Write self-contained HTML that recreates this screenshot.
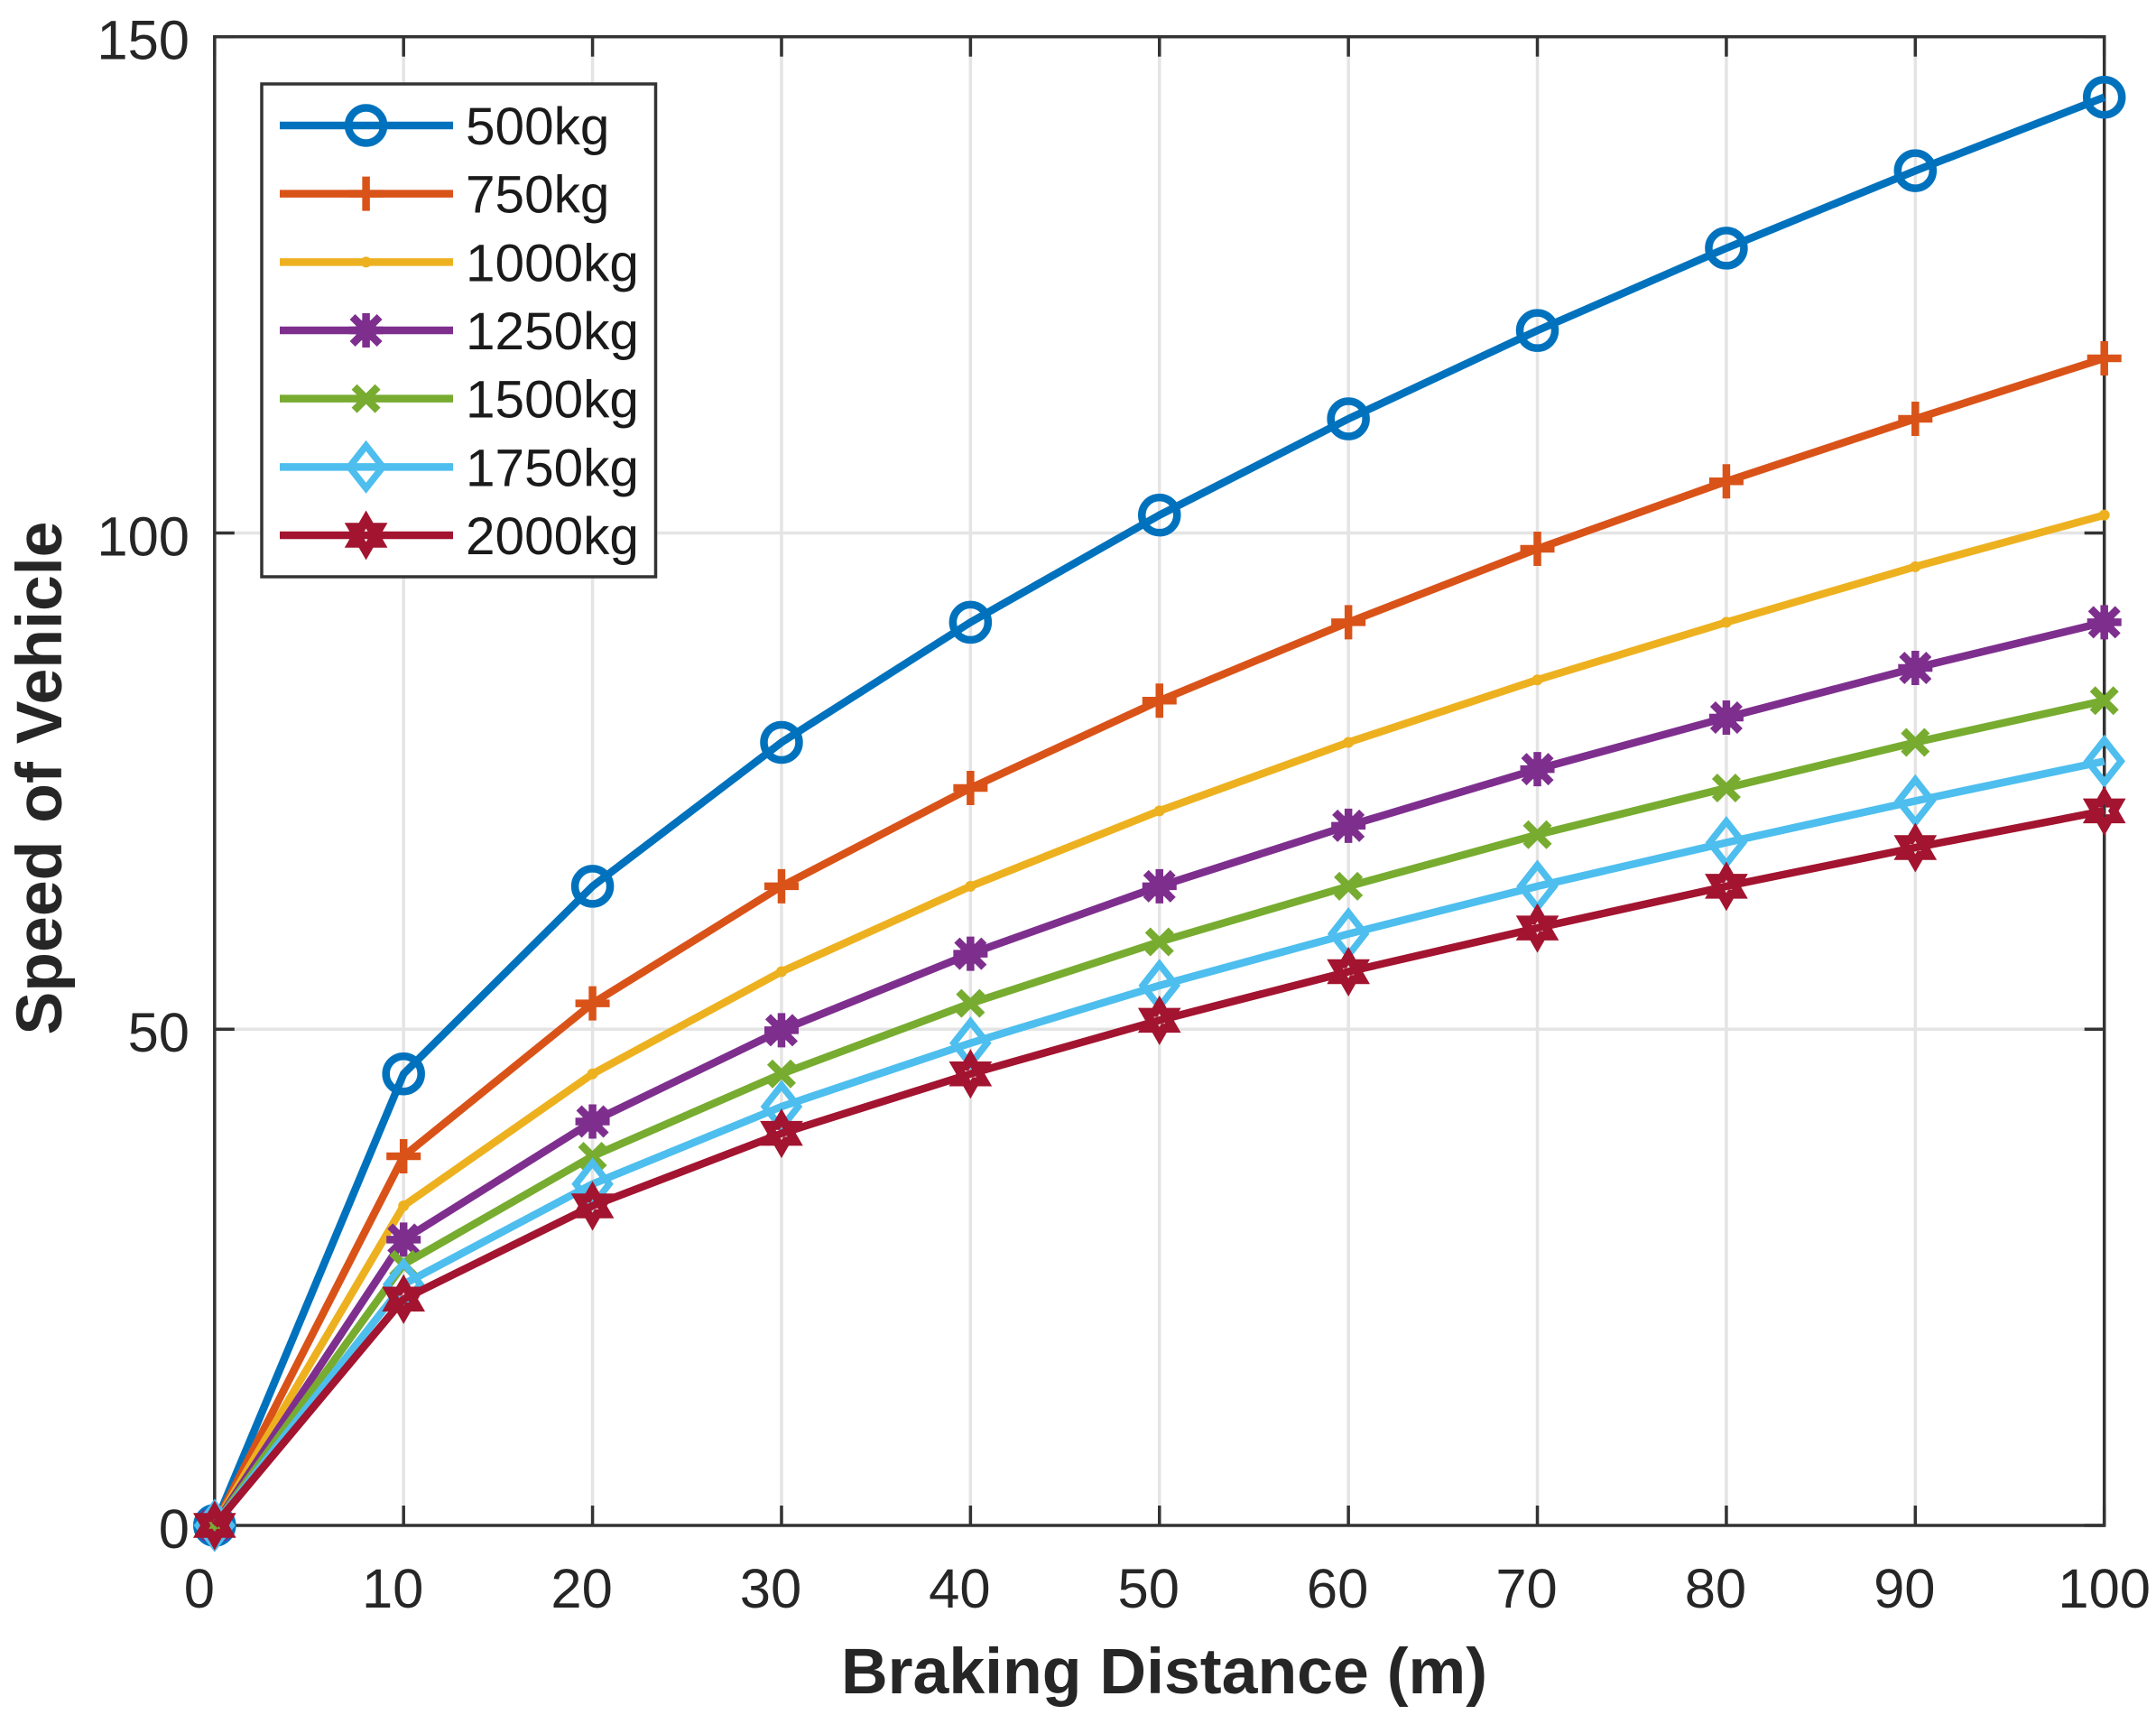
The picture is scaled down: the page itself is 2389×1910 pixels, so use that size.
<!DOCTYPE html>
<html lang="en">
<head>
<meta charset="utf-8">
<title>Speed of Vehicle vs Braking Distance</title>
<style>
html,body{margin:0;padding:0;background:#fff;}
svg{display:block;font-family:"Liberation Sans",Arial,sans-serif;}
</style>
</head>
<body>
<svg id="chart" xmlns="http://www.w3.org/2000/svg" width="2389" height="1910" viewBox="0 0 2389 1910">
  <rect x="0" y="0" width="2389" height="1910" fill="#fff"/>
  <g id="grid"></g>
  <g id="axes"></g>
  <g id="series"></g>
  <g id="legend"></g>
  <text x="1290" y="1876" font-size="71.6" font-weight="bold" text-anchor="middle" fill="#262626">Braking Distance (m)</text>
  <text transform="translate(68 862) rotate(-90)" font-size="71.6" font-weight="bold" text-anchor="middle" fill="#262626">Speed of Vehicle</text>
</svg>
<script>
const distances = [0, 10, 20, 30, 40, 50, 60, 70, 80, 90, 100];
const series500kg = [0, 45.5, 64.4, 78.9, 91, 101.8, 111.5, 120.4, 128.7, 136.5, 143.9];
const series750kg = [0, 37.2, 52.6, 64.4, 74.3, 83.1, 91, 98.4, 105.2, 111.5, 117.6];
const series1000kg = [0, 32.2, 45.5, 55.8, 64.4, 72, 78.9, 85.2, 91, 96.6, 101.8];
const series1250kg = [0, 28.8, 40.7, 49.9, 57.6, 64.4, 70.5, 76.2, 81.4, 86.4, 91];
const series1500kg = [0, 26.3, 37.2, 45.5, 52.6, 58.8, 64.4, 69.6, 74.3, 78.9, 83.1];
const series1750kg = [0, 24.3, 34.4, 42.2, 48.6, 54.4, 59.6, 64.4, 68.8, 73, 77];
const series2000kg = [0, 22.8, 32.2, 39.5, 45.5, 50.9, 55.8, 60.2, 64.4, 68.3, 72];
const legendLabels = ["500kg", "750kg", "1000kg", "1250kg", "1500kg", "1750kg", "2000kg"];
const xTickLabels = [0, 10, 20, 30, 40, 50, 60, 70, 80, 90, 100];
const yTickLabels = [0, 50, 100, 150];

const allSeries = [series500kg, series750kg, series1000kg, series1250kg, series1500kg, series1750kg, series2000kg];
const colors = ["#0072BD", "#D95319", "#EDB120", "#7E2F8E", "#77AC30", "#4DBEEE", "#A2142F"];
const markerKinds = ["circle", "plus", "point", "asterisk", "cross", "diamond", "hexagram"];

const plot = { left: 237.8, right: 2331.7, top: 40.7, bottom: 1690 };
const xMax = 100;
const yMax = 150;
const lineWidth = 8.5;
function xScale(v) { return plot.left + (v / xMax) * (plot.right - plot.left); }
function yScale(v) { return plot.bottom - (v / yMax) * (plot.bottom - plot.top); }

const NS = "http://www.w3.org/2000/svg";
function mk(parent, tag, attrs, name) {
  const e = document.createElementNS(NS, tag);
  for (const k in attrs) e.setAttribute(k, attrs[k]);
  
  
  parent.appendChild(e);
  return e;
}
const gridG = document.getElementById("grid");
const axesG = document.getElementById("axes");
const seriesG = document.getElementById("series");
const legendG = document.getElementById("legend");

/* grid */
xTickLabels.forEach(function (t) {
  if (t === 0 || t === xMax) return;
  mk(gridG, "line", { x1: xScale(t), x2: xScale(t), y1: plot.top, y2: plot.bottom, stroke: "#e4e4e4", "stroke-width": 3.5 }, "x-grid-line-" + t);
});
yTickLabels.forEach(function (t) {
  if (t === 0 || t === yMax) return;
  mk(gridG, "line", { x1: plot.left, x2: plot.right, y1: yScale(t), y2: yScale(t), stroke: "#e4e4e4", "stroke-width": 3.5 }, "y-grid-line-" + t);
});

/* axes box and ticks */
mk(axesG, "rect", { x: plot.left, y: plot.top, width: plot.right - plot.left, height: plot.bottom - plot.top, fill: "none", stroke: "#333", "stroke-width": 3.5 }, "axes-box");
const tickLen = 22;
function xLabelShift(t) {
  if (t === 0) return -17;
  if (t === xMax) return 0;
  return -12;
}
xTickLabels.forEach(function (t) {
  const x = xScale(t);
  mk(axesG, "line", { x1: x, x2: x, y1: plot.bottom, y2: plot.bottom - tickLen, stroke: "#333", "stroke-width": 3.5 }, "x-tick-bottom-" + t);
  mk(axesG, "line", { x1: x, x2: x, y1: plot.top, y2: plot.top + tickLen, stroke: "#333", "stroke-width": 3.5 }, "x-tick-top-" + t);
  const lbl = mk(axesG, "text", { x: x + xLabelShift(t), y: 1781, "font-size": 61.5, "text-anchor": "middle", fill: "#262626" }, "x-tick-label-" + t);
  lbl.textContent = String(t);
});
yTickLabels.forEach(function (t) {
  const y = yScale(t);
  mk(axesG, "line", { x1: plot.left, x2: plot.left + tickLen, y1: y, y2: y, stroke: "#333", "stroke-width": 3.5 }, "y-tick-left-" + t);
  mk(axesG, "line", { x1: plot.right, x2: plot.right - tickLen, y1: y, y2: y, stroke: "#333", "stroke-width": 3.5 }, "y-tick-right-" + t);
  const lbl = mk(axesG, "text", { x: 210, y: y + 25, "font-size": 61.5, "text-anchor": "end", fill: "#262626" }, "y-tick-label-" + t);
  lbl.textContent = String(t);
});

/* markers */
function starPoints(cx, cy, R) {
  const r = R / Math.sqrt(3);
  const pts = [];
  for (let i = 0; i < 12; i++) {
    const a = -Math.PI / 2 + i * Math.PI / 6;
    const d = i % 2 === 0 ? R : r;
    pts.push((cx + d * Math.cos(a)).toFixed(2) + "," + (cy + d * Math.sin(a)).toFixed(2));
  }
  return pts.join(" ");
}
function drawMarker(parent, kind, cx, cy, color, name) {
  const g = mk(parent, "g", { fill: "none", stroke: color, "stroke-width": lineWidth }, name);
  function seg(dx1, dy1, dx2, dy2, part) {
    mk(g, "line", { x1: cx + dx1, y1: cy + dy1, x2: cx + dx2, y2: cy + dy2 }, name + "-" + part);
  }
  if (kind === "circle") {
    mk(g, "circle", { cx: cx, cy: cy, r: 19.5 }, name + "-ring");
  } else if (kind === "plus") {
    seg(-19, 0, 19, 0, "h");
    seg(0, -19, 0, 19, "v");
  } else if (kind === "point") {
    mk(g, "circle", { cx: cx, cy: cy, r: 6, fill: color, "stroke-width": 0 }, name + "-dot");
  } else if (kind === "asterisk") {
    seg(-19, 0, 19, 0, "h");
    seg(0, -19, 0, 19, "v");
    seg(-15, -15, 15, 15, "d1");
    seg(-15, 15, 15, -15, "d2");
    mk(g, "circle", { cx: cx, cy: cy, r: 12, fill: color, "stroke-width": 0 }, name + "-hub");
  } else if (kind === "cross") {
    seg(-13, -13, 13, 13, "d1");
    seg(-13, 13, 13, -13, "d2");
  } else if (kind === "diamond") {
    const hw = 18.5, hh = 23.5;
    mk(g, "polygon", { points: [cx, cy - hh, cx + hw, cy, cx, cy + hh, cx - hw, cy].join(" "), "stroke-width": 7.5 }, name + "-outline");
  } else if (kind === "hexagram") {
    mk(g, "polygon", { points: starPoints(cx, cy, 17.5), "stroke-width": 10 }, name + "-outline");
  }
}

/* series */
allSeries.forEach(function (values, i) {
  const key = legendLabels[i];
  const g = mk(seriesG, "g", {}, "series-" + key);
  const pts = values.map(function (v, j) { return xScale(distances[j]).toFixed(2) + "," + yScale(v).toFixed(2); }).join(" ");
  mk(g, "polyline", { points: pts, fill: "none", stroke: colors[i], "stroke-width": lineWidth, "stroke-linejoin": "round" }, "line-" + key);
  values.forEach(function (v, j) {
    drawMarker(g, markerKinds[i], xScale(distances[j]), yScale(v), colors[i], "marker-" + key + "-" + distances[j]);
  });
});

/* legend */
mk(legendG, "rect", { x: 290, y: 93, width: 436.5, height: 546, fill: "#fff", stroke: "#333", "stroke-width": 3.5 }, "legend-box");
const rowTop = 139;
const rowStep = 75.67;
legendLabels.forEach(function (label, i) {
  const y = rowTop + i * rowStep;
  const g = mk(legendG, "g", {}, "legend-entry-" + label);
  mk(g, "line", { x1: 310, x2: 502, y1: y, y2: y, stroke: colors[i], "stroke-width": lineWidth }, "legend-line-" + label);
  drawMarker(g, markerKinds[i], 405.6, y, colors[i], "legend-marker-" + label);
  const t = mk(g, "text", { x: 516, y: y + 21, "font-size": 58.5, fill: "#1a1a1a" }, "legend-label-" + label);
  t.textContent = label;
});
</script>
</body>
</html>
